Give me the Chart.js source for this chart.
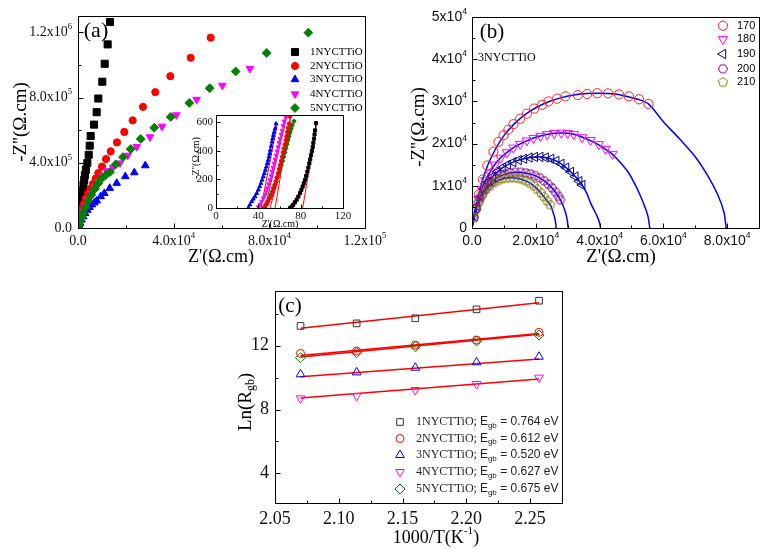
<!DOCTYPE html>
<html><head><meta charset="utf-8">
<script src="https://cdn.jsdelivr.net/npm/chart.js@4.4.1/dist/chart.umd.min.js"></script>
<style>
html,body{margin:0;padding:0;background:#fff;}
#wrap{position:relative;width:775px;height:549px;overflow:hidden;background:#fff;}
canvas{position:absolute;left:0;top:0;}
</style></head><body>
<div id="wrap">
<canvas id="cA" width="775" height="549"></canvas>
<canvas id="cI" width="775" height="549"></canvas>
<canvas id="cB" width="775" height="549"></canvas>
<canvas id="cC" width="775" height="549"></canvas>
</div>
<script>
// ================= DATA =================
// ---- panel (a): Nyquist plots, Z' vs -Z''
const aNames = ['1NYCTTiO','2NYCTTiO','3NYCTTiO','4NYCTTiO','5NYCTTiO'];
const a1 = [[0,0],[250,25000],[500,55000],[800,90000],[1100,125000],[1400,160000],[1700,195000],[2000,230000],[2300,265000],[2600,295000],[2900,325000],[3300,357000],[3900,398000],[4470,449000],[4900,505000],[5300,564000],[6690,634000],[7800,710000],[8500,794000],[10160,897000],[11160,1007000],[12400,1126000],[13380,1263000]];
const a2 = [[0,0],[300,30000],[700,60000],[1200,90000],[1800,120000],[2500,150000],[3300,180000],[4200,210000],[5200,240000],[6300,270000],[7400,303000],[8500,337000],[10030,377000],[11710,423000],[13670,470000],[16300,525000],[19360,589000],[22870,660000],[27180,743000],[32320,833000],[38600,931000],[47120,1044000],[55470,1167000]];
const a3 = [[0,0],[400,15000],[900,30000],[1500,50000],[2200,70000],[3000,90000],[3900,110000],[4800,127000],[5800,143000],[6800,155000],[7820,167000],[9490,193000],[11000,213000],[13250,244000],[16180,275000],[19780,316000],[23540,340000],[28140,383000]];
const a4 = [[0,0],[300,20000],[800,47000],[1500,75000],[2200,100000],[3200,135000],[4300,172000],[5600,210000],[7000,250000],[8600,285000],[10300,320000],[12000,350000],[14600,372000],[17560,398000],[20780,445000],[24540,498000],[30100,558000],[35120,623000],[41100,693000],[49600,788000],[60340,874000],[71900,978000]];
const a5 = [[0,0],[300,18000],[800,42000],[1500,68000],[2200,92000],[3200,128000],[4300,166000],[5600,204000],[7100,242000],[8500,274000],[9900,304000],[11600,325000],[13380,343000],[15760,390000],[18810,435000],[22030,484000],[26220,546000],[31900,615000],[38760,681000],[46540,767000],[55060,857000],[65930,960000],[78900,1073000],[96300,1198000]];
const aXTicks = [0, 40000, 80000, 120000];
const aXTickLabels = ['0.0','4.0x10^{4}','8.0x10^{4}','1.2x10^{5}'];
const aYTicks = [0, 400000, 800000, 1200000];
const aYTickLabels = ['0.0','4.0x10^{5}','8.0x10^{5}','1.2x10^{6}'];

// ---- inset of (a): high-frequency region
const i1 = [[70,0],[71.5,10],[73,23],[74.6,40],[76.2,58],[77.8,80],[79.4,104],[80.7,127],[81.9,150],[83,173],[84.1,196],[85.2,225],[86.3,254],[87.3,283],[88.2,312],[89,340],[89.8,369],[90.6,398],[91.4,427],[92,456],[92.6,485],[93.1,514],[93.6,543],[94.5,593]];
const i2 = [[44.5,0],[46.3,7],[47.9,26],[49.4,46],[51,69],[52.6,92],[53.7,115],[54.8,139],[55.8,162],[56.7,185],[57.6,214],[58.6,243],[59.6,272],[60.5,300],[61.5,329],[62.4,358],[63.2,387],[64,416],[65,445],[65.9,473],[66.7,502],[67.4,531],[68.2,560],[69,589],[69.9,640]];
const i3 = [[30.5,0],[32,22],[33.7,46],[35.3,63],[36.9,80],[38.5,103],[40,127],[41.3,150],[42.5,173],[43.6,196],[44.7,219],[45.7,242],[46.6,265],[47.6,288],[48.5,312],[49.3,335],[50.1,358],[50.7,381],[51.3,404],[52.1,433],[52.9,462],[53.6,485],[54.2,508],[55,531],[55.8,554],[56.7,589]];
const i4 = [[40,7],[41.6,26],[43.2,46],[44.8,69],[46.3,92],[47.4,115],[48.5,139],[49.8,167],[51,196],[52,225],[52.9,254],[53.9,283],[54.8,312],[55.8,340],[56.7,369],[57.6,398],[58.6,427],[59.5,456],[60.5,485],[61.4,514],[62.4,543],[63.3,575],[64.3,607],[65.9,635]];
const i5 = [[45.4,0],[47,23],[48.5,46],[50.1,69],[51.7,92],[53,115],[54.2,139],[55.5,162],[56.7,185],[58,214],[59.3,243],[60.5,272],[61.7,300],[62.9,329],[64,358],[65,387],[65.9,416],[66.9,445],[67.8,473],[68.9,502],[69.9,531],[70.9,555],[71.8,578],[73.7,607]];
const iFit1 = [[81.9,0],[95.5,605]];
const iFit2 = [[55.8,0],[70.6,647]];
const iFit3 = [[42.5,0],[58,593]];
const iFit4 = [[46.3,0],[66.8,635]];
const iFit5 = [[51,0],[74.7,617]];
const iXTicks = [0,40,80,120];
const iXTickLabels = ['0','40','80','120'];
const iYTicks = [0,200,400,600];
const iYTickLabels = ['0','200','400','600'];

// ---- panel (b): 3NYCTTiO at several temperatures
const bTemps = ['170','180','190','200','210'];
const b170 = [[1200,4500],[2200,8000],[3400,11500],[4800,14800],[6700,18100],[8300,20400],[9900,22000],[11400,23300],[13000,24600],[15100,25900],[17200,27100],[19500,28300],[22000,29200],[24000,30000],[26700,30650],[29300,31200],[33200,31500],[36100,31750],[39300,31950],[42700,31900],[46100,31650],[49200,31200],[52400,30500],[55350,29400]];
const b170Fit = [[0,0],[600,2800],[1500,6000],[3000,10600],[5000,15000],[7500,18900],[10000,21900],[13000,24500],[16500,26800],[20000,28500],[24000,29900],[28000,30900],[32000,31500],[36000,31850],[40000,31950],[44000,31800],[48000,31300],[52000,30500],[55350,29400],[60000,25200],[65000,21200],[70000,16900],[74000,12300],[77000,8000],[79000,3800],[79700,0]];
const b180 = [[1000,3800],[2000,6800],[3000,9200],[4200,11300],[5600,13100],[7200,15000],[9000,16600],[11000,17900],[13000,19000],[15100,19900],[17200,20700],[19300,21300],[21500,21800],[23600,22200],[25800,22450],[28000,22550],[30000,22450],[31900,22200],[34550,21460],[37170,20820],[39780,19810],[41900,18700],[44000,17520]];
const b180Fit = [[0,0],[500,2000],[1500,5400],[3000,9200],[5000,12400],[8000,15900],[11000,17900],[14000,19500],[17000,20600],[20000,21500],[23000,22100],[26000,22450],[29000,22500],[32000,22200],[35000,21400],[38000,20400],[41000,19100],[44000,17520],[47000,15100],[49200,12970],[51200,10200],[52900,7450],[54300,4800],[55200,2700],[55750,0]];
const b190 = [[800,2800],[1600,5200],[2600,7400],[3800,9300],[5100,10900],[6500,12200],[8000,13300],[9600,14300],[11200,15000],[12900,15600],[14600,16100],[16300,16400],[18000,16700],[19700,16850],[21400,16850],[23100,16700],[24800,16400],[26400,15900],[28000,15200],[29500,14300],[31000,13300],[32400,12200],[33600,11100],[34550,10200]];
const b190Fit = [[0,0],[400,1600],[1600,5200],[3800,9300],[6500,12200],[9600,14300],[12900,15600],[16300,16400],[19700,16850],[23100,16700],[26400,15900],[29500,14300],[32400,12200],[34550,10200],[36000,8200],[37200,5900],[38300,4200],[39300,2700],[40000,1200],[40300,0]];
const b200 = [[600,2500],[1300,4500],[2100,6200],[3000,7700],[4000,9000],[5100,10100],[6300,11000],[7600,11800],[9000,12400],[10500,12800],[12000,13100],[13600,13200],[15200,13200],[16800,13050],[18300,12800],[19800,12400],[21200,11900],[22600,11200],[23900,10400],[25100,9500],[26200,8500],[27100,7500],[27700,6700]];
const b200Fit = [[0,0],[300,1500],[1300,4500],[3000,7700],[5100,10100],[7600,11800],[10500,12800],[13600,13200],[16800,13050],[19800,12400],[22600,11200],[25100,9500],[27100,7500],[28500,5400],[29400,3500],[29900,1700],[30140,0]];
const b210 = [[500,2500],[1100,4300],[1800,5800],[2600,7100],[3500,8200],[4500,9200],[5600,10000],[6800,10700],[8000,11200],[9300,11600],[10600,11800],[11900,11900],[13200,11900],[14500,11750],[15800,11500],[17000,11100],[18200,10600],[19400,10000],[20500,9200],[21600,8300],[22600,7400],[23600,6400],[24570,5500]];
const b210Fit = [[0,0],[250,1400],[1100,4300],[2600,7100],[4500,9200],[6800,10700],[9300,11600],[11900,11900],[14500,11750],[17000,11100],[19400,10000],[21600,8300],[23600,6400],[24570,5500],[25300,4000],[25900,2500],[26250,1100],[26370,0]];
const bXTicks = [0,20000,40000,60000,80000];
const bXTickLabels = ['0.0','2.0x10^{4}','4.0x10^{4}','6.0x10^{4}','8.0x10^{4}'];
const bYTicks = [0,10000,20000,30000,40000,50000];
const bYTickLabels = ['0','1x10^{4}','2x10^{4}','3x10^{4}','4x10^{4}','5x10^{4}'];

// ---- panel (c): Arrhenius plot
const cNames = ['1NYCTTiO','2NYCTTiO','3NYCTTiO','4NYCTTiO','5NYCTTiO'];
const cEnergy = ['0.764','0.612','0.520','0.627','0.675'];
const cX = [2.070, 2.114, 2.160, 2.208, 2.257];
const c1 = [13.24, 13.40, 13.72, 14.28, 14.82];
const c2 = [11.52, 11.67, 12.04, 12.36, 12.84];
const c3 = [10.21, 10.33, 10.62, 10.96, 11.31];
const c4 = [8.70, 8.85, 9.22, 9.60, 10.00];
const c5 = [11.25, 11.56, 11.94, 12.29, 12.67];
const cFitX = [2.070, 2.257];
const cFit1 = [13.09, 14.70];
const cFit2 = [11.38, 12.77];
const cFit3 = [10.06, 11.17];
const cFit4 = [8.72, 9.91];
const cFit5 = [11.30, 12.72];
const cXTicks = [2.05, 2.10, 2.15, 2.20, 2.25];
const cXTickLabels = ['2.05','2.10','2.15','2.20','2.25'];
const cYTicks = [4, 8, 12];
const cYTickLabels = ['4','8','12'];

// ================= HELPERS =================
const SERIF = '"Liberation Serif","Times New Roman",serif';
const SANS = '"Liberation Sans",Arial,sans-serif';

function parseRich(str, size, family) {
  const parts = [];
  const re = /\^\{([^}]*)\}|_\{([^}]*)\}|([^^_]+)/g;
  let m;
  while ((m = re.exec(str))) {
    if (m[1] !== undefined) parts.push({t:m[1], s:size*0.62, dy:-size*0.38, f:family});
    else if (m[2] !== undefined) parts.push({t:m[2], s:size*0.62, dy:size*0.25, f:family});
    else parts.push({t:m[3], s:size, dy:0, f:family});
  }
  return parts;
}
function drawParts(ctx, parts, x, y, align, color) {
  ctx.fillStyle = color || '#000';
  ctx.textBaseline = 'middle'; ctx.textAlign = 'left';
  let w = 0;
  parts.forEach(p => { ctx.font = p.s + 'px ' + p.f; p.w = ctx.measureText(p.t).width; w += p.w; });
  let cx = align === 'center' ? x - w/2 : (align === 'right' ? x - w : x);
  parts.forEach(p => { ctx.font = p.s + 'px ' + p.f; ctx.fillText(p.t, cx, y + p.dy); cx += p.w; });
}
function polyCanvas(n, r, color, lw, start) {
  const s = Math.ceil(2*r + lw*2 + 2);
  const cv = document.createElement('canvas'); cv.width = s; cv.height = s;
  const g = cv.getContext('2d'); g.strokeStyle = color; g.lineWidth = lw;
  g.beginPath();
  for (let i = 0; i < n; i++) {
    const an = start + i*2*Math.PI/n;
    const px = s/2 + r*Math.cos(an), py = s/2 + r*Math.sin(an);
    if (i) g.lineTo(px, py); else g.moveTo(px, py);
  }
  g.closePath(); g.stroke();
  return cv;
}
function drawMarker(ctx, m, x, y) {
  ctx.save();
  ctx.fillStyle = m.fill ? m.c : 'rgba(0,0,0,0)';
  ctx.strokeStyle = m.c; ctx.lineWidth = m.bw || 1;
  Chart.helpers.drawPoint(ctx, {pointStyle: m.ps, rotation: m.rot || 0, radius: m.r, borderWidth: m.bw || 1}, x, y);
  ctx.restore();
}
const P = arr => arr.map(([x, y]) => ({x, y}));
const Z = (xs, ys) => xs.map((x, i) => ({x, y: ys[i]}));
function markerDS(data, m) {
  return {data, showLine:false, pointStyle:m.ps, pointRotation:m.rot || 0, pointRadius:m.r, pointHoverRadius:m.r,
    pointBackgroundColor: m.fill ? m.c : 'rgba(0,0,0,0)', pointBorderColor:m.c, pointBorderWidth:m.bw || 1, order:0};
}
function lineDS(data, color, width, tension) {
  return {data, showLine:true, pointRadius:0, pointHoverRadius:0, borderColor:color, borderWidth:width, tension:tension || 0, fill:false, order:5};
}

function decor(id, cfg) {
  return {
    id,
    beforeDraw(chart) {
      if (!cfg.bg) return;
      const a = chart.chartArea, ctx = chart.ctx;
      ctx.save(); ctx.fillStyle = cfg.bg; ctx.fillRect(a.left, a.top, a.right - a.left, a.bottom - a.top); ctx.restore();
    },
    afterDraw(chart) {
      const ctx = chart.ctx, a = chart.chartArea, xs = chart.scales.x, ys = chart.scales.y;
      ctx.save();
      const L = Math.round(a.left) + 0.5, T = Math.round(a.top) + 0.5, R = Math.round(a.right) + 0.5, B = Math.round(a.bottom) + 0.5;
      ctx.strokeStyle = cfg.frameColor || '#000'; ctx.lineWidth = cfg.frameWidth || 1;
      ctx.strokeRect(L, T, R - L, B - T);
      const tk = cfg.ticks;
      ctx.beginPath();
      tk.xMajor.forEach(v => { const p = Math.round(xs.getPixelForValue(v)) + 0.5; ctx.moveTo(p, B); ctx.lineTo(p, B - tk.major); });
      tk.xMinor.forEach(v => { const p = Math.round(xs.getPixelForValue(v)) + 0.5; ctx.moveTo(p, B); ctx.lineTo(p, B - tk.minor); });
      tk.yMajor.forEach(v => { const p = Math.round(ys.getPixelForValue(v)) + 0.5; ctx.moveTo(L, p); ctx.lineTo(L + tk.major, p); });
      tk.yMinor.forEach(v => { const p = Math.round(ys.getPixelForValue(v)) + 0.5; ctx.moveTo(L, p); ctx.lineTo(L + tk.minor, p); });
      ctx.stroke();
      const xl = cfg.xLabels;
      xl.values.forEach((v, i) => drawParts(ctx, parseRich(xl.labels[i], xl.size, xl.family), xs.getPixelForValue(v), a.bottom + xl.off, 'center', xl.color));
      const yl = cfg.yLabels;
      yl.values.forEach((v, i) => drawParts(ctx, parseRich(yl.labels[i], yl.size, yl.family), a.left - yl.off, ys.getPixelForValue(v) + (yl.dy || 0), 'right', yl.color));
      (cfg.texts || []).forEach(t => {
        const parts = t.parts || parseRich(t.text, t.size, t.family);
        if (t.rot) {
          ctx.save(); ctx.translate(t.x, t.y); ctx.rotate(-Math.PI/2);
          drawParts(ctx, parts, 0, 0, t.align || 'center', t.color); ctx.restore();
        } else drawParts(ctx, parts, t.x, t.y, t.align || 'center', t.color);
      });
      if (cfg.legend) {
        const lg = cfg.legend;
        lg.items.forEach((it, i) => {
          drawMarker(ctx, it.m, lg.mx, lg.ys[i]);
          drawParts(ctx, it.parts, lg.tx, lg.ys[i], 'left', lg.color);
        });
      }
      ctx.restore();
    }
  };
}
function makeChart(id, area, xr, yr, datasets, plugin) {
  return new Chart(document.getElementById(id), {
    type: 'scatter',
    data: {datasets},
    options: {
      responsive: false, animation: false, events: [], devicePixelRatio: 1,
      layout: {padding: {left: area.l, top: area.t, right: 775 - area.r, bottom: 549 - area.b}},
      scales: {
        x: {type: 'linear', min: xr[0], max: xr[1], display: false},
        y: {type: 'linear', min: yr[0], max: yr[1], display: false}
      },
      plugins: {legend: {display: false}, tooltip: {enabled: false}}
    },
    plugins: [plugin]
  });
}

// ================= PANEL (a) =================
const mA = [
  {ps:'rect', r:5, c:'#000000', fill:true},
  {ps:'circle', r:3.6, c:'#ff0000', fill:true},
  {ps:'triangle', r:4.4, c:'#0000ff', fill:true},
  {ps:'triangle', rot:180, r:4.4, c:'#ff00ff', fill:true},
  {ps:'rectRot', r:4.4, c:'#008000', fill:true}
];
const aSeries = [a1, a2, a3, a4, a5];
makeChart('cA', {l:78, t:16, r:365, b:228}, [0, 120000], [0, 1300000],
  [4, 3, 2, 1, 0].map(i => markerDS(P(aSeries[i]), mA[i])),
  decor('decorA', {
    ticks: {major:5, minor:3, xMajor:[40000, 80000], xMinor:[20000, 60000, 100000], yMajor:[400000, 800000, 1200000], yMinor:[200000, 600000, 1000000]},
    xLabels: {values:aXTicks, labels:aXTickLabels, size:14, family:SERIF, off:13, color:'#111'},
    yLabels: {values:aYTicks, labels:aYTickLabels, size:14, family:SERIF, off:6, color:'#111'},
    texts: [
      {text:'(a)', x:96, y:31, size:22, family:SERIF},
      {text:"Z'(\u03A9.cm)", x:221, y:257, size:18, family:SERIF},
      {text:"-Z''(\u03A9.cm)", x:21, y:122, size:19, family:SERIF, rot:true}
    ],
    legend: {mx:295, tx:310, ys:[52, 66, 79.5, 94, 108], color:'#000',
      items: aNames.map((n, i) => ({m: mA[i], parts: parseRich(n, 11, SERIF)}))}
  }));

// ================= INSET =================
const mI = [
  {ps:'rect', r:2.2, c:'#000000', fill:true},
  {ps:'circle', r:1.8, c:'#ff0000', fill:true},
  {ps:'triangle', r:2.2, c:'#0000ff', fill:true},
  {ps:'triangle', rot:180, r:2.2, c:'#ff00ff', fill:true},
  {ps:'rectRot', r:2.2, c:'#008000', fill:true}
];
const iSeries = [i1, i2, i3, i4, i5];
const iFits = [iFit1, iFit2, iFit3, iFit4, iFit5];
makeChart('cI', {l:216, t:115, r:343, b:208}, [0, 120], [0, 650],
  [].concat(
    iFits.map(f => lineDS(P(f), '#ff0000', 1, 0)),
    iSeries.map((s, i) => Object.assign(markerDS(P(s), mI[i]), {showLine:true, borderColor:mI[i].c, borderWidth:1}))
  ),
  decor('decorI', {
    bg: '#ffffff',
    ticks: {major:4, minor:2, xMajor:[40, 80], xMinor:[20, 60, 100], yMajor:[200, 400, 600], yMinor:[100, 300, 500]},
    xLabels: {values:iXTicks, labels:iXTickLabels, size:11, family:SERIF, off:8, color:'#111'},
    yLabels: {values:iYTicks, labels:iYTickLabels, size:11, family:SERIF, off:3, color:'#111'},
    texts: [
      {text:"Z'(\u03A9.cm)", x:280, y:224, size:10, family:SERIF},
      {text:"-Z''(\u03A9.cm)", x:196, y:158, size:10, family:SERIF, rot:true}
    ]
  }));

// ================= PANEL (b) =================
const hexImg = polyCanvas(6, 4.6, '#800080', 1, 0);
const pentImg = polyCanvas(5, 4.8, '#808000', 1, -Math.PI/2);
const mB = [
  {ps:'circle', r:4.6, c:'#ff2020', fill:false},
  {ps:'triangle', rot:180, r:5.4, c:'#ff00ff', fill:false},
  {ps:'triangle', rot:-90, r:5.4, c:'#000080', fill:false},
  {ps:hexImg, r:4.6, c:'#800080', fill:false},
  {ps:pentImg, r:4.8, c:'#808000', fill:false}
];
const bSeries = [b170, b180, b190, b200, b210];
const bFits = [b170Fit, b180Fit, b190Fit, b200Fit, b210Fit];
makeChart('cB', {l:472, t:17, r:759, b:228}, [0, 90000], [0, 50000],
  [].concat(
    bFits.map(f => lineDS(P(f), '#0000ff', 1.5, 0.3)),
    [4, 3, 2, 1, 0].map(i => markerDS(P(bSeries[i]), mB[i]))
  ),
  decor('decorB', {
    ticks: {major:5, minor:3, xMajor:[20000, 40000, 60000, 80000], xMinor:[10000, 30000, 50000, 70000], yMajor:[10000, 20000, 30000, 40000], yMinor:[5000, 15000, 25000, 35000, 45000]},
    xLabels: {values:bXTicks, labels:bXTickLabels, size:14, family:SANS, off:13, color:'#111'},
    yLabels: {values:bYTicks, labels:bYTickLabels, size:14, family:SANS, off:5, color:'#111'},
    texts: [
      {text:'(b)', x:492, y:32, size:21, family:SERIF},
      {text:'3NYCTTiO', x:478, y:58, size:12, family:SERIF, align:'left'},
      {text:"Z'(\u03A9.cm)", x:621, y:257, size:19, family:SERIF},
      {text:"-Z''(\u03A9.cm)", x:419, y:127, size:19, family:SERIF, rot:true}
    ],
    legend: {mx:723, tx:737, ys:[25.7, 39.3, 54, 68.7, 82.3], color:'#000',
      items: bTemps.map((n, i) => ({m: mB[i], parts: parseRich(n, 11, SANS)}))}
  }));

// ================= PANEL (c) =================
const mC = [
  {ps:'rect', r:4.7, c:'#333333', fill:false},
  {ps:'circle', r:4, c:'#ff0000', fill:false},
  {ps:'triangle', r:5, c:'#0000ff', fill:false},
  {ps:'triangle', rot:180, r:5, c:'#ff00ff', fill:false},
  {ps:'rectRot', r:5, c:'#008000', fill:false}
];
const cSeries = [c1, c2, c3, c4, c5];
const cFits = [cFit1, cFit2, cFit3, cFit4, cFit5];
makeChart('cC', {l:275, t:291, r:562, b:503}, [2.05, 2.275], [2.14, 15.43],
  [].concat(
    cFits.map(f => lineDS(Z(cFitX, f), '#ff0000', 1.5, 0)),
    [4, 3, 2, 1, 0].map(i => markerDS(Z(cX, cSeries[i]), mC[i]))
  ),
  decor('decorC', {
    ticks: {major:5, minor:3, xMajor:[2.10, 2.15, 2.20, 2.25], xMinor:[2.075, 2.125, 2.175, 2.225], yMajor:[4, 8, 12], yMinor:[6, 10, 14]},
    xLabels: {values:cXTicks, labels:cXTickLabels, size:18, family:SERIF, off:16, color:'#111'},
    yLabels: {values:cYTicks, labels:cYTickLabels, size:18, family:SERIF, off:6, color:'#111'},
    texts: [
      {text:'(c)', x:290, y:306, size:21, family:SERIF},
      {text:'1000/T(K^{-1})', x:436, y:538, size:18, family:SERIF},
      {text:'Ln(R_{gb})', x:246, y:402, size:19, family:SERIF, rot:true}
    ],
    legend: {mx:400, tx:416, ys:[422, 438.5, 455, 472, 489], color:'#222',
      items: cNames.map((n, i) => ({m: mC[i], parts: [
        {t:n + '; ', s:12, dy:0, f:SERIF},
        {t:'E', s:12, dy:0, f:SANS},
        {t:'gb', s:8, dy:3.5, f:SANS},
        {t:' = ' + cEnergy[i] + ' eV', s:12, dy:0, f:SANS}
      ]}))}
  }));
</script>
</body></html>
